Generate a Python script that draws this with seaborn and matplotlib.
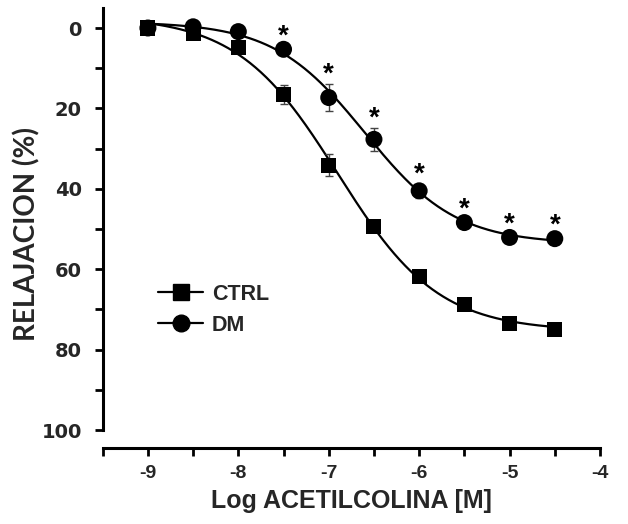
import numpy as np
import pandas as pd
import matplotlib
matplotlib.use("Agg")
import matplotlib.pyplot as plt
from matplotlib.lines import Line2D
import seaborn as sns

# ---- data ----
log_ach = [-9.0, -8.5, -8.0, -7.5, -7.0, -6.5, -6.0, -5.5, -5.0, -4.5]
ctrl_mean = [0.0, 1.3, 4.9, 16.6, 34.1, 49.3, 61.7, 68.7, 73.5, 75.1]
ctrl_sem = [0.3, 0.5, 1.0, 2.4, 2.8, 1.5, 1.0, 0.8, 0.8, 0.8]
dm_mean = [0.0, -0.3, 0.9, 5.3, 17.3, 27.7, 40.5, 48.4, 52.1, 52.4]
dm_sem = [0.3, 0.5, 0.8, 1.0, 3.4, 2.9, 1.8, 1.0, 1.0, 1.0]
signif_dm = [False, False, False, True, True, True, True, True, True, True]
groups = ["CTRL", "DM"]
x_ticks = [-9, -8, -7, -6, -5, -4]
y_ticks = [0, 20, 40, 60, 80, 100]


def fit_4pl(x, y):
    """Least-squares 4-parameter logistic fit via grid search."""
    x = np.asarray(x); y = np.asarray(y)
    best = None
    for ec in np.linspace(-8.5, -5.0, 141):
        for h in np.linspace(0.3, 2.5, 111):
            f = 1.0 / (1.0 + 10 ** ((ec - x) * h))
            A = np.column_stack([np.ones_like(f), f])
            coef, *_ = np.linalg.lstsq(A, y, rcond=None)
            r = np.sum((A @ coef - y) ** 2)
            if best is None or r < best[0]:
                best = (r, ec, h, coef)
    _, ec, h, coef = best
    return lambda xx: coef[0] + coef[1] / (1.0 + 10 ** ((ec - xx) * h))


xs = np.linspace(min(log_ach), max(log_ach), 300)
curves = []
for g, m in zip(groups, [ctrl_mean, dm_mean]):
    fn = fit_4pl(log_ach, m)
    curves.append(pd.DataFrame({"x": xs, "y": fn(xs), "group": g}))
curve_df = pd.concat(curves, ignore_index=True)

pts_df = pd.DataFrame({
    "x": log_ach * 2,
    "y": ctrl_mean + dm_mean,
    "err": ctrl_sem + dm_sem,
    "group": ["CTRL"] * len(log_ach) + ["DM"] * len(log_ach),
})

sns.set_style("white")
plt.rcParams["font.family"] = ["Liberation Sans", "DejaVu Sans"]
plt.rcParams["font.weight"] = "bold"
plt.rcParams["xtick.labelsize"] = 14
plt.rcParams["ytick.labelsize"] = 14
plt.rcParams["xtick.bottom"] = True
plt.rcParams["ytick.left"] = True

W, H = 628, 524
# axes box: x spine at y=448 px, y range 0 -> 28 px, 100 -> 430 px
ax_left, ax_right, ax_top, ax_bot = 102.7, 600.0, 8.0, 448.0
fig = plt.figure(figsize=(W / 100, H / 100), dpi=100)
ax = fig.add_axes([ax_left / W, 1 - ax_bot / H, (ax_right - ax_left) / W,
                   (ax_bot - ax_top) / H])

black = "#000000"
sns.lineplot(data=curve_df, x="x", y="y", hue="group", palette=[black, black],
             linewidth=1.6, legend=False, ax=ax, zorder=2)

for g in groups:
    sub = pts_df[pts_df["group"] == g]
    ax.errorbar(sub["x"], sub["y"], yerr=sub["err"], fmt="none", ecolor="#444444",
                elinewidth=1.0, capsize=3, capthick=1.0, zorder=3)

sns.scatterplot(data=pts_df, x="x", y="y", hue="group", style="group",
                size="group", sizes={"CTRL": 117, "DM": 150},
                markers={"CTRL": "s", "DM": "o"}, palette=[black, black],
                edgecolor=black, linewidth=0, legend=False, ax=ax, zorder=4)

# significance asterisks
for xv, yv, sv, sg in zip(log_ach, dm_mean, dm_sem, signif_dm):
    if sg:
        ax.annotate("*", (xv, yv - sv), xytext=(0, -3), textcoords="offset points",
                    ha="center", va="bottom", fontsize=20, fontweight="bold",
                    color=black)

for s in ["top", "right"]:
    ax.spines[s].set_visible(False)
for s in ["left", "bottom"]:
    ax.spines[s].set_linewidth(2.2)
    ax.spines[s].set_color(black)

px_per_unit = (430 - 28) / 100.0
ax.set_xlim(-9.5, -4)
ax.set_ylim(100 + (ax_bot - 430) / px_per_unit, -(28 - ax_top) / px_per_unit)
ax.spines["left"].set_bounds(-5, 100)
ax.set_xticks(x_ticks)
ax.set_xticks(np.arange(-9.5, -3.9, 0.5), minor=True)
ax.set_yticks(y_ticks)
ax.set_yticks(np.arange(10, 100, 20), minor=True)
ax.set_xticklabels([str(t) for t in x_ticks])
ax.set_yticklabels([str(t) for t in y_ticks])

ax.tick_params(axis="both", which="both", direction="out", length=5.5, width=2.0,
               color=black, bottom=True, left=True)
ax.tick_params(axis="x", which="major", pad=7, labelsize=14)
ax.tick_params(axis="y", which="major", pad=9.5, labelsize=14)

ax.set_xlabel("Log ACETILCOLINA [M]", fontsize=18, fontweight="bold", labelpad=5)
ax.set_ylabel("RELAJACION (%)", fontsize=20, fontweight="bold",
              family=["Lato", "DejaVu Sans"])
ax.yaxis.set_label_coords((40 - ax_left) / (ax_right - ax_left),
                          (ax_bot - 234) / (ax_bot - ax_top))

handles = [
    Line2D([], [], color=black, lw=1.6, marker="s", markersize=11),
    Line2D([], [], color=black, lw=1.6, marker="o", markersize=12),
]
fig.legend(handles, groups, loc="upper left",
           bbox_to_anchor=(158 / W, 1 - 284 / H), frameon=False,
           prop={"size": 15.5, "weight": "bold"}, handlelength=2.1,
           handletextpad=0.4, labelspacing=0.45, borderpad=0, borderaxespad=0)


def style_ticklabels():
    for lab in ax.get_xticklabels():
        lab.set_fontweight("bold")
        lab.set_fontsize(14)
        lab.set_family(["Liberation Sans", "DejaVu Sans"])
    for lab in ax.get_yticklabels():
        lab.set_fontweight("bold")
        lab.set_fontsize(14)
        lab.set_family(["DejaVu Sans"])


style_ticklabels()
fig.canvas.draw()
style_ticklabels()
r = fig.canvas.get_renderer()
for lab in ax.get_xticklabels() + ax.get_yticklabels():
    lab.get_window_extent(r)

fig.savefig("out.png", dpi=100, facecolor="white")
